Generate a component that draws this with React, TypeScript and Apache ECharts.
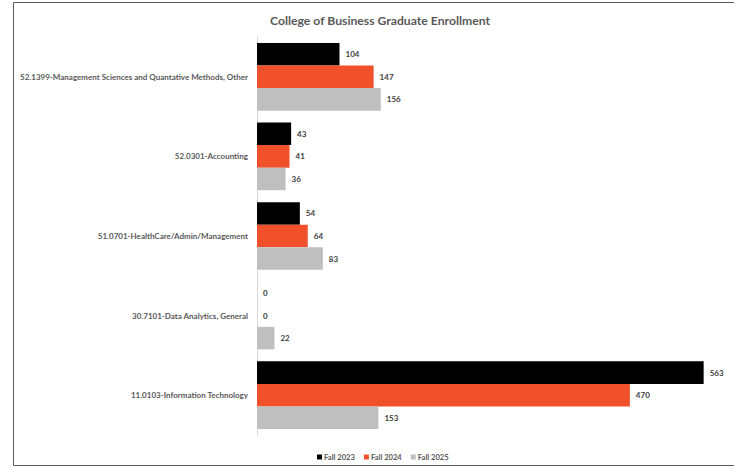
import React, { useEffect, useRef } from "react";
import * as echarts from "echarts";

const categories = [
  "52.1399-Management Sciences and Quantative Methods, Other",
  "52.0301-Accounting",
  "51.0701-HealthCare/Admin/Management",
  "30.7101-Data Analytics, General",
  "11.0103-Information Technology",
];
const seriesNames = ["Fall 2023", "Fall 2024", "Fall 2025"];
const fall2023 = [104, 43, 54, 0, 563];
const fall2024 = [147, 41, 64, 0, 470];
const fall2025 = [156, 36, 83, 22, 153];
const colors = ["#000000", "#F0502A", "#BFBFBF"];

export default function App() {
  const ref = useRef<HTMLDivElement>(null);
  useEffect(() => {
    document.body.style.margin = "0";
    const chart = echarts.init(ref.current!, null, { renderer: "svg" });
    const font = "Lato, 'Open Sans', sans-serif";
    const data = [fall2023, fall2024, fall2025];
    chart.setOption({
      animation: false,
      title: {
        text: "College of Business Graduate Enrollment",
        left: 375,
        textAlign: "center",
        top: 9,
        textStyle: { fontSize: 12.2, fontWeight: "bold", color: "#595959", fontFamily: font },
      },
      legend: {
        data: seriesNames,
        left: 312,
        top: 448,
        icon: "rect",
        itemWidth: 5,
        itemHeight: 5,
        itemGap: 9,
        textStyle: { fontSize: 7.6, fontWeight: "bold", color: "#595959", fontFamily: font, padding: [0, 0, 0, -3] },
      },
      grid: { left: 257, right: 1, top: 37, bottom: 33, containLabel: false },
      xAxis: {
        type: "value",
        min: 0,
        max: 600,
        show: false,
      },
      yAxis: {
        type: "category",
        data: categories,
        inverse: true,
        axisLine: { show: true, lineStyle: { color: "#D9D9D9", width: 1 } },
        axisTick: { show: false },
        axisLabel: { fontSize: 8, fontWeight: "bold", color: "#595959", fontFamily: font, margin: 9 },
      },
      graphic: [
        {
          type: "rect",
          shape: { x: 13.5, y: 2.5, width: 740, height: 463 },
          style: { fill: "none", stroke: "#595959", lineWidth: 1 },
          silent: true,
        },
      ],
      series: seriesNames.map((name, i) => ({
        name,
        type: "bar",
        data: data[i],
        barGap: "0%",
        barCategoryGap: "15%",
        itemStyle: { color: colors[i] },
        label: {
          show: true,
          position: "right",
          distance: 6,
          fontSize: 8,
          fontWeight: "bold",
          color: "#404040",
          fontFamily: font,
        },
      })),
    });
    return () => chart.dispose();
  }, []);
  return <div ref={ref} style={{ width: 734, height: 468 }} />;
}
